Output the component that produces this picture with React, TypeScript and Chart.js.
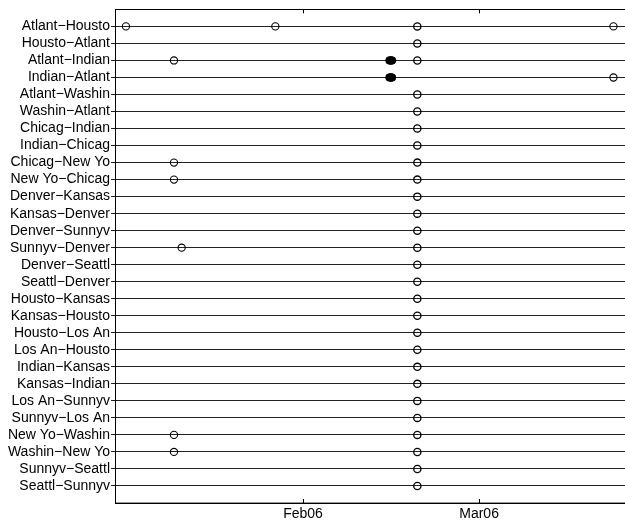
import React, { useEffect, useRef } from "react";
import { Chart, registerables } from "chart.js";

Chart.register(...registerables);

// Route categories, top to bottom
const routes: string[] = [
  "Atlant\u2212Housto",
  "Housto\u2212Atlant",
  "Atlant\u2212Indian",
  "Indian\u2212Atlant",
  "Atlant\u2212Washin",
  "Washin\u2212Atlant",
  "Chicag\u2212Indian",
  "Indian\u2212Chicag",
  "Chicag\u2212New Yo",
  "New Yo\u2212Chicag",
  "Denver\u2212Kansas",
  "Kansas\u2212Denver",
  "Denver\u2212Sunnyv",
  "Sunnyv\u2212Denver",
  "Denver\u2212Seattl",
  "Seattl\u2212Denver",
  "Housto\u2212Kansas",
  "Kansas\u2212Housto",
  "Housto\u2212Los An",
  "Los An\u2212Housto",
  "Indian\u2212Kansas",
  "Kansas\u2212Indian",
  "Los An\u2212Sunnyv",
  "Sunnyv\u2212Los An",
  "New Yo\u2212Washin",
  "Washin\u2212New Yo",
  "Sunnyv\u2212Seattl",
  "Seattl\u2212Sunnyv",
];

// Day of year 2006 of the main observation for each route (null = none)
const mainDays: (number | null)[] = [
  50.18, 50.18, 50.18, null, 50.18, 50.18, 50.18, 50.18, 50.18, 50.18,
  50.18, 50.18, 50.18, 50.18, 50.18, 50.18, 50.18, 50.18, 50.18, 50.18,
  50.18, 50.18, 50.18, 50.18, 50.18, 50.18, 50.18, 50.18,
];

// Other single observations
const extraRoutes: number[] = [0, 0, 0, 2, 3, 8, 9, 13, 24, 25];
const extraDays: number[] = [3.84, 27.6, 81.37, 11.48, 81.37, 11.48, 11.48, 12.7, 11.48, 11.48];

// Dense clusters of observations
const clusterRoutes: number[] = [2, 2, 2, 3, 3, 3];
const clusterDays: number[] = [45.75, 45.95, 46.15, 45.75, 45.95, 46.15];

// X axis ticks (day of year 2006)
const tickDays: number[] = [32, 60];
const tickLabels: string[] = ["Feb06", "Mar06"];

const FONT = "'Liberation Sans', Arial, Helvetica, sans-serif";

const framePlugin = {
  id: "frame",
  afterDraw(chart: any) {
    const { ctx, chartArea } = chart;
    const xs = chart.scales.x;
    ctx.save();
    ctx.strokeStyle = "#000";
    ctx.lineWidth = 1;
    ctx.strokeRect(
      Math.round(chartArea.left) + 0.5,
      Math.round(chartArea.top) + 0.5,
      chartArea.right - chartArea.left,
      chartArea.bottom - chartArea.top
    );
    ctx.beginPath();
    for (const v of tickDays) {
      const px = Math.round(xs.getPixelForValue(v)) + 0.5;
      ctx.moveTo(px, chartArea.top);
      ctx.lineTo(px, chartArea.top + 4);
      ctx.moveTo(px, chartArea.bottom);
      ctx.lineTo(px, chartArea.bottom - 4);
    }
    ctx.stroke();
    ctx.restore();
  },
};

export default function App() {
  const ref = useRef<HTMLCanvasElement | null>(null);

  useEffect(() => {
    document.body.style.margin = "0";
    document.body.style.overflow = "hidden";
    if (!ref.current) return;

    const mainData = routes
      .map((_, i) => (mainDays[i] == null ? null : { x: mainDays[i] as number, y: i + 1 }))
      .filter((p) => p !== null);
    const extraData = extraRoutes.map((r, i) => ({ x: extraDays[i], y: r + 1 }));
    const clusterData = clusterRoutes.map((r, i) => ({ x: clusterDays[i], y: r + 1 }));

    const chart = new Chart(ref.current, {
      type: "scatter",
      data: {
        datasets: [
          {
            data: mainData as any,
            pointStyle: "circle",
            pointRadius: 3.6,
            borderColor: "#000",
            borderWidth: 1.3,
            backgroundColor: "rgba(0,0,0,0)",
          },
          {
            data: extraData,
            pointStyle: "circle",
            pointRadius: 3.6,
            borderColor: "#000",
            borderWidth: 1.1,
            backgroundColor: "rgba(0,0,0,0)",
          },
          {
            data: clusterData,
            pointStyle: "circle",
            pointRadius: 3.8,
            borderColor: "#000",
            borderWidth: 1,
            backgroundColor: "#000",
          },
        ],
      },
      options: {
        responsive: false,
        animation: false,
        layout: { padding: { top: 6, right: 10, left: 0, bottom: 0 } },
        plugins: { legend: { display: false }, tooltip: { enabled: false } },
        scales: {
          x: {
            type: "linear",
            min: 2.1,
            max: 84,
            afterBuildTicks: (scale: any) => {
              scale.ticks = tickDays.map((v) => ({ value: v }));
            },
            afterFit: (scale: any) => {
              scale.height = 21;
            },
            ticks: {
              autoSkip: false,
              maxRotation: 0,
              padding: 3,
              color: "#000",
              font: { family: FONT, size: 14 },
              callback: (v: any) => {
                const i = tickDays.indexOf(Number(v));
                return i >= 0 ? tickLabels[i] : "";
              },
            },
            grid: { display: false, drawTicks: false },
            border: { display: true, color: "#000", width: 1 },
          },
          y: {
            type: "linear",
            min: 0,
            max: 29,
            reverse: true,
            afterBuildTicks: (scale: any) => {
              scale.ticks = routes.map((_, i) => ({ value: i + 1 }));
            },
            afterFit: (scale: any) => {
              scale.width = 115;
            },
            ticks: {
              autoSkip: false,
              padding: 1,
              color: "#000",
              font: { family: FONT, size: 14 },
              callback: (v: any) => routes[Number(v) - 1] ?? "",
            },
            grid: {
              color: "#222",
              lineWidth: 1,
              tickLength: 4,
              drawTicks: true,
            },
            border: { display: true, color: "#000", width: 1 },
          },
        },
      },
      plugins: [framePlugin],
    });

    return () => chart.destroy();
  }, []);

  return (
    <div style={{ width: 640, height: 524, overflow: "hidden" }}>
      <canvas ref={ref} width={640} height={524} style={{ display: "block" }} />
    </div>
  );
}
